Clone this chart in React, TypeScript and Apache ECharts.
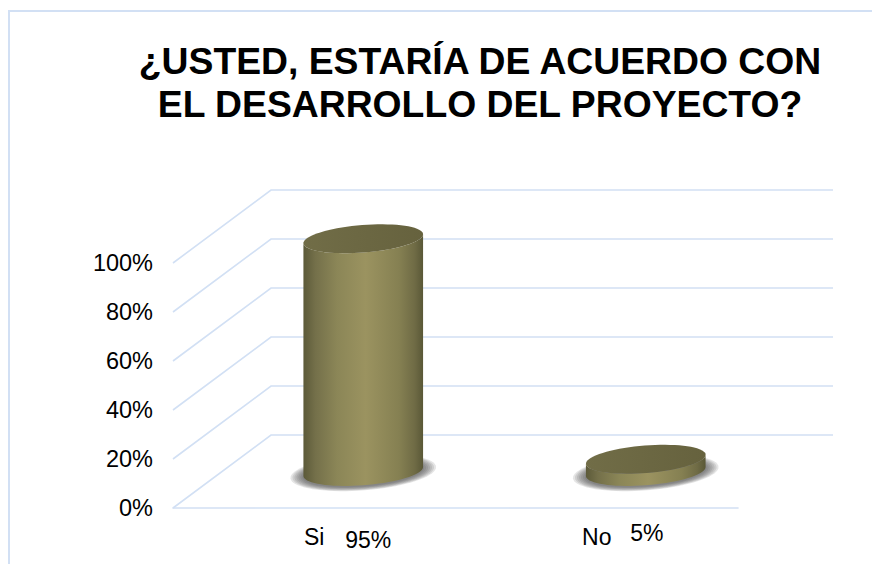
import React, { useEffect, useRef } from "react";
import * as echarts from "echarts";

const categories = ["Si", "No"];
const percentValues = [95, 5];
const percentLabels = ["95%", "5%"];
const gridTicks = [0, 20, 40, 60, 80, 100];

const FONT = '"Liberation Sans", Arial, sans-serif';
const GRID_COLOR = "#d2e0f4";
const DEPTH_X = 98;
const DEPTH_Y = 73;
const WALL_RIGHT = 833;
const RX = 60;
const RY = 13.7;
const TILT = (-4.5 * Math.PI) / 180;
const LABEL_SHIFT = [
  [5, 32],
  [1, 25],
];
const SHADOW_STEPS = [13, 11, 9, 7, 5, 3, 1];

function ellipsePoint(cx: number, cy: number, t: number, rx = RX, ry = RY) {
  const c = Math.cos(t);
  const s = Math.sin(t);
  return [
    cx + rx * c * Math.cos(TILT) - ry * s * Math.sin(TILT),
    cy + rx * c * Math.sin(TILT) + ry * s * Math.cos(TILT),
  ];
}

function ellipsePolygon(cx: number, cy: number, rx = RX, ry = RY) {
  const pts: number[][] = [];
  for (let i = 0; i < 72; i++) pts.push(ellipsePoint(cx, cy, (i / 72) * Math.PI * 2, rx, ry));
  return pts;
}

function renderWall(params: any, api: any) {
  const y = api.coord([0, api.value(1)])[1];
  const x0 = params.coordSys.x;
  return {
    type: "polyline",
    shape: {
      points: [
        [x0, y],
        [x0 + DEPTH_X, y - DEPTH_Y],
        [WALL_RIGHT, y - DEPTH_Y],
      ],
    },
    style: { stroke: GRID_COLOR, lineWidth: 1.6, fill: "none" },
  };
}

function renderCylinder(params: any, api: any) {
  const idx = api.value(0);
  const base = api.coord([idx, 0]);
  const top = api.coord([idx, api.value(1)]);
  const cx = base[0] + DEPTH_X / 2;
  const by = base[1] - DEPTH_Y / 2;
  const ty = top[1] - DEPTH_Y / 2;
  const t0 = Math.atan2(-RY * Math.sin(TILT), RX * Math.cos(TILT));
  const body: number[][] = [];
  for (let i = 0; i <= 36; i++) {
    body.push(ellipsePoint(cx, by, t0 + (i / 36) * Math.PI));
  }
  for (let i = 36; i >= 0; i--) {
    body.push(ellipsePoint(cx, ty, t0 + (i / 36) * Math.PI));
  }
  const shift = LABEL_SHIFT[params.dataIndex];
  const shadows = SHADOW_STEPS.map((d) => ({
    type: "polygon",
    shape: { points: ellipsePolygon(cx, by + 1, RX + d, RY + d * 0.32) },
    style: { fill: "rgba(70,70,70,0.14)" },
  }));
  return {
    type: "group",
    children: [
      ...shadows,
      {
        type: "polygon",
        shape: { points: body },
        style: {
          fill: new echarts.graphic.LinearGradient(0, 0, 1, 0, [
            { offset: 0, color: "#5c5a39" },
            { offset: 0.1, color: "#74704a" },
            { offset: 0.28, color: "#8b8657" },
            { offset: 0.52, color: "#9b9360" },
            { offset: 0.8, color: "#858052" },
            { offset: 0.93, color: "#6f6b45" },
            { offset: 1, color: "#5a5837" },
          ]),
        },
      },
      {
        type: "polygon",
        shape: { points: ellipsePolygon(cx, ty) },
        style: {
          fill: new echarts.graphic.LinearGradient(0, 0, 1, 0, [
            { offset: 0, color: "#716d47" },
            { offset: 1, color: "#66623e" },
          ]),
        },
      },
      {
        type: "text",
        style: {
          text: percentLabels[params.dataIndex],
          x: cx + shift[0],
          y: base[1] + shift[1],
          align: "center",
          verticalAlign: "middle",
          font: `23px ${FONT}`,
          fill: "#000",
        },
      },
    ],
  };
}

export default function App() {
  const ref = useRef<HTMLDivElement>(null);
  useEffect(() => {
    const chart = echarts.init(ref.current!, null, { renderer: "svg" });
    chart.setOption({
      animation: false,
      backgroundColor: "#fff",
      title: {
        text: "¿USTED, ESTARÍA DE ACUERDO CON\nEL DESARROLLO DEL PROYECTO?",
        left: 475,
        top: 34,
        textAlign: "center",
        textStyle: {
          fontFamily: FONT,
          fontSize: 37.3,
          fontWeight: "bold",
          color: "#000",
          lineHeight: 43,
        },
      },
      grid: { left: 173, top: 263, width: 565, height: 245, containLabel: false },
      xAxis: {
        type: "category",
        data: categories,
        axisTick: { show: false },
        axisLine: { lineStyle: { color: GRID_COLOR, width: 1.6 } },
        axisLabel: { fontFamily: FONT, fontSize: 23, color: "#000", margin: 17 },
      },
      yAxis: {
        type: "value",
        min: 0,
        max: 100,
        interval: 20,
        axisLine: { show: false },
        axisTick: { show: false },
        splitLine: { show: false },
        axisLabel: {
          formatter: "{value}%",
          fontFamily: FONT,
          fontSize: 23.5,
          color: "#000",
          margin: 20,
          padding: [4, 0, 0, 0],
        },
      },
      graphic: [
        {
          type: "polyline",
          silent: true,
          shape: { points: [[9, 564], [9, 11], [872, 11]] },
          style: { stroke: GRID_COLOR, lineWidth: 2, fill: "none" },
        },
      ],
      series: [
        {
          type: "custom",
          silent: true,
          renderItem: renderWall,
          data: gridTicks.map((v) => [0, v]),
          encode: { x: 0, y: 1 },
        },
        {
          type: "custom",
          silent: true,
          renderItem: renderCylinder,
          data: percentValues.map((v, i) => [i, v]),
          encode: { x: 0, y: 1 },
        },
      ],
    });
    return () => chart.dispose();
  }, []);
  return <div ref={ref} style={{ position: "fixed", left: 0, top: 0, width: 872, height: 564 }} />;
}
